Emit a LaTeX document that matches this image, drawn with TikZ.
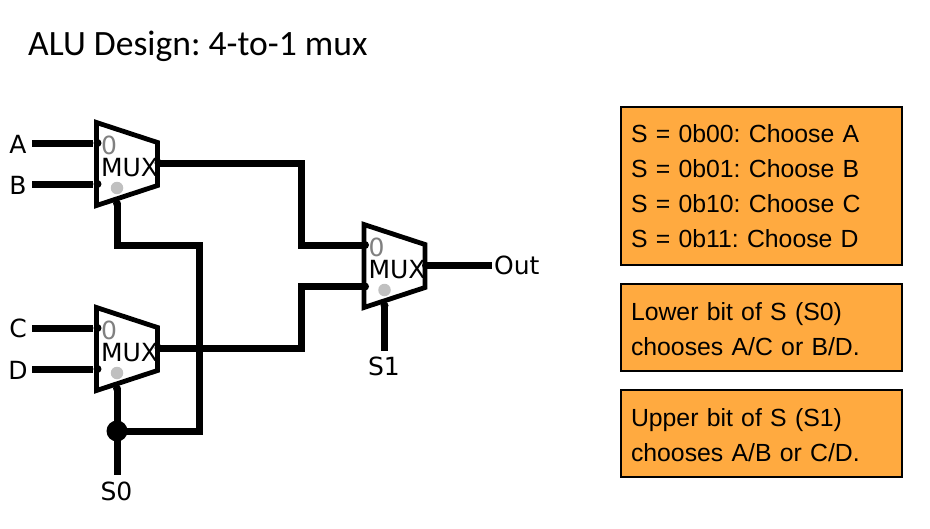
\documentclass[tikz,border=0pt]{standalone}
\usepackage{fontspec}
\setmainfont{Liberation Sans}
\newfontfamily\labelfont{DejaVu Sans}
\newfontfamily\titlefont{Carlito}
\definecolor{boxorange}{HTML}{FFAA40}
\definecolor{pingray}{HTML}{C0C0C0}
\definecolor{zerogray}{HTML}{808080}
\frenchspacing

\begin{document}
\begin{tikzpicture}[x=1pt,y=-1pt,
        wire/.style={line width=7pt},
        muxbody/.style={line width=4.8pt,fill=white,line join=miter},
        pindot/.style={circle,fill=black,inner sep=0pt,minimum size=8pt},
        seldot/.style={circle,fill=pingray,inner sep=0pt,minimum size=12.5pt},
        muxtext/.style={font=\labelfont\fontsize{25}{25}\selectfont,inner sep=0pt},
        zerotext/.style={muxtext,text=zerogray},
        term/.style={font=\labelfont\fontsize{25}{25}\selectfont,inner sep=0pt},
        notebox/.style={draw=black,line width=1.8pt,outer sep=0pt,fill=boxorange,minimum width=281pt,
            text width=261pt,inner sep=0pt,align=left,anchor=north west,
            font=\fontsize{24.8}{35}\selectfont}]
        \useasboundingbox (0,0) rectangle (930,528);
        \def\muxbody{ (0,0) -- (61,20) -- (61,63) -- (0,83) -- cycle};
        \def\lowline{\rule{0pt}{20.5pt}}

        % --- TITLE ---
        \node[anchor=west,inner sep=0pt,font=\titlefont\fontsize{35.6}{35.6}\selectfont] (title) at (28,46) {ALU Design: 4-to-1 mux};

        % --- INPUT LABELS ---
        \node[term] (lblA) at (18,144) {A};
        \node[term] (lblB) at (18,185) {B};
        \node[term] (lblC) at (18,328) {C};
        \node[term] (lblD) at (18,370) {D};
        \coordinate (startA) at (32,143);
        \coordinate (startB) at (32,184);
        \coordinate (startC) at (32,328);
        \coordinate (startD) at (32,369);

        % --- MUX TOP LEFT ---
        \begin{scope}[shift={(96.5,122.5)}]
            \draw[muxbody] \muxbody;
            \node[zerotext] (zeroAB) at (12.5,23) {0};
            \node[muxtext] (nameAB) at (33,45) {MUX};
            \node[seldot] (grayAB) at (20.5,65.5) {};
            \node[pindot] (inA) at (1,20.5) {};
            \node[pindot] (inB) at (1,61.5) {};
            \node[pindot] (outAB) at (62,40.5) {};
            \node[pindot] (selAB) at (20.5,81) {};
        \end{scope}

        % --- MUX BOTTOM LEFT ---
        \begin{scope}[shift={(96.5,307.5)}]
            \draw[muxbody] \muxbody;
            \node[zerotext] (zeroCD) at (12.5,23) {0};
            \node[muxtext] (nameCD) at (33,45) {MUX};
            \node[seldot] (grayCD) at (20.5,65.5) {};
            \node[pindot] (inC) at (1,20.5) {};
            \node[pindot] (inD) at (1,61.5) {};
            \node[pindot] (outCD) at (62,40.5) {};
            \node[pindot] (selCD) at (20.5,81) {};
        \end{scope}

        % --- MUX RIGHT ---
        \begin{scope}[shift={(364,224.5)}]
            \draw[muxbody] \muxbody;
            \node[zerotext] (zeroOut) at (12.5,23) {0};
            \node[muxtext] (nameOut) at (33,45) {MUX};
            \node[seldot] (grayOut) at (20.5,65.5) {};
            \node[pindot] (inAB) at (1,20.5) {};
            \node[pindot] (inCD) at (1,62) {};
            \node[pindot] (outMux) at (62,41) {};
            \node[pindot] (selOut) at (20.5,81) {};
        \end{scope}

        % --- WIRES ---
        \draw[wire] (startA) -- (inA);
        \draw[wire] (startB) -- (inB);
        \draw[wire] (startC) -- (inC);
        \draw[wire] (startD) -- (inD);

        \coordinate (midAB) at (301,204);
        \coordinate (midCD) at (301,318);
        \draw[wire] (outAB.center) -| (midAB) |- (inAB.center);
        \draw[wire] (outCD.center) -| (midCD) |- (inCD.center);

        \node[term,anchor=west] (lblOut) at (494,265) {Out};
        \coordinate (endOut) at (492,265.5);
        \draw[wire] (outMux.center) -- (endOut);

        \node[term] (lblSone) at (384,366) {S1};
        \coordinate (endSone) at (384.5,351);
        \draw[wire] (selOut.center) -- (endSone);

        \node[term] (lblSzero) at (116.5,491) {S0};
        \coordinate (endSzero) at (117,475);
        \node[circle,fill=black,inner sep=0pt,minimum size=21pt] (tap) at (117,431) {};
        \coordinate (riseA) at (117,245);
        \coordinate (riseB) at (199,245);
        \coordinate (riseC) at (199,431);
        \draw[wire] (selCD.center) -- (endSzero);
        \draw[wire] (selAB.center) -- (riseA) -- (riseB) -- (riseC) -- (tap.center);

        % --- NOTES ---
        \node[notebox,minimum height=158pt] (noteS) at (621,107) {S = 0b00: Choose A\\S = 0b01: Choose B\\S = 0b10: Choose C\\S = 0b11: Choose D};
        \node[notebox,minimum height=87pt] (noteLow) at (621,284) {\lowline Lower bit of S (S0)\\chooses A/C or B/D.};
        \node[notebox,minimum height=87pt] (noteUp) at (621,390) {\lowline Upper bit of S (S1)\\chooses A/B or C/D.};
    \end{tikzpicture}
\end{document}
